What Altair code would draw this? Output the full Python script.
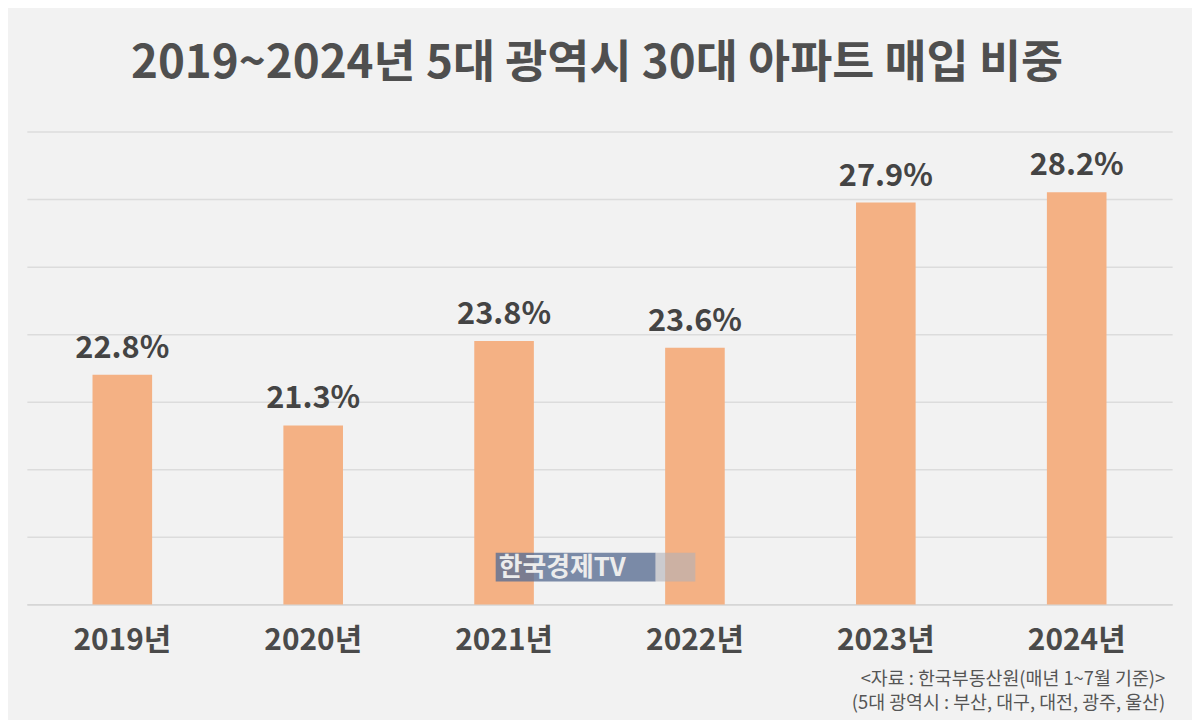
import altair as alt
import pandas as pd

years = ["2019년", "2020년", "2021년", "2022년", "2023년", "2024년"]
shares = [22.8, 21.3, 23.8, 23.6, 27.9, 28.2]
labels = ["22.8%", "21.3%", "23.8%", "23.6%", "27.9%", "28.2%"]
y_min, y_max = 16, 30
grid_ticks = [16, 18, 20, 22, 24, 26, 28, 30]

title_text = "2019~2024년 5대 광역시 30대 아파트 매입 비중"
source_line1 = "<자료 : 한국부동산원(매년 1~7월 기준)>"
source_line2 = "(5대 광역시 : 부산, 대구, 대전, 광주, 울산)"
watermark = "한국경제TV"

FONT = "Noto Sans CJK KR"
W, H = 1153, 476

df = pd.DataFrame({"year": years, "share": shares, "label": labels})

x = alt.X("year:N", sort=years, scale=alt.Scale(paddingInner=0, paddingOuter=0),
          axis=alt.Axis(title=None, labelAngle=0, labelFontSize=30, labelFontWeight="bold",
                        labelColor="#4a4a4a", labelFont=FONT, labelPadding=21, ticks=False,
                        domain=True, domainColor="#d2d2d2", domainWidth=1.5))
yscale = alt.Scale(domain=[y_min, y_max], zero=False, nice=False)
y = alt.Y("share:Q", scale=yscale,
          axis=alt.Axis(title=None, labels=False, ticks=False, domain=False, values=grid_ticks,
                        grid=True, gridColor="#dcdcdc", gridWidth=1.5))

base = alt.Chart(df)
bars = base.mark_bar(color="#f4b184", size=60).encode(x=x, y=y, y2=alt.datum(y_min))
vals = base.mark_text(font=FONT, fontSize=31, fontWeight="bold", color="#444444",
                      baseline="bottom", dy=-10).encode(
    x=alt.X("year:N", sort=years), y=alt.Y("share:Q", scale=yscale), text="label:N")

title = alt.Chart(pd.DataFrame({"t": [title_text]})).mark_text(
    font=FONT, fontSize=46, fontWeight="bold", color="#4f4f4f", baseline="middle", align="center"
).encode(x=alt.value(574), y=alt.value(-68), text="t:N")

src1 = alt.Chart(pd.DataFrame({"t": [source_line1]})).mark_text(
    font=FONT, fontSize=18.5, color="#555555", align="right", baseline="middle"
).encode(x=alt.value(1146), y=alt.value(551), text="t:N")
src2 = alt.Chart(pd.DataFrame({"t": [source_line2]})).mark_text(
    font=FONT, fontSize=18.5, color="#555555", align="right", baseline="middle"
).encode(x=alt.value(1146), y=alt.value(575), text="t:N")

wm_rect1 = alt.Chart(pd.DataFrame({"a": [0]})).mark_rect(color="#5b6f93", opacity=0.8).encode(
    x=alt.value(472), x2=alt.value(633), y=alt.value(424), y2=alt.value(453))
wm_rect2 = alt.Chart(pd.DataFrame({"a": [0]})).mark_rect(color="#b0b0b8", opacity=0.6).encode(
    x=alt.value(633), x2=alt.value(673), y=alt.value(424), y2=alt.value(453))
wm_text = alt.Chart(pd.DataFrame({"t": [watermark]})).mark_text(
    font=FONT, fontSize=26, fontWeight="bold", color="#ececec", align="left", baseline="middle"
).encode(x=alt.value(475), y=alt.value(439), text="t:N")

chart = alt.layer(bars, vals, wm_rect1, wm_rect2, wm_text, title, src1, src2).properties(
    width=W, height=H, background="#f2f2f2",
    padding={"left": 19, "top": 122, "right": 20, "bottom": 114},
    autosize=alt.AutoSizeParams(type="none"),
).configure_view(stroke=None)

chart.save("out.html", embed_options={"renderer": "svg", "actions": False})
